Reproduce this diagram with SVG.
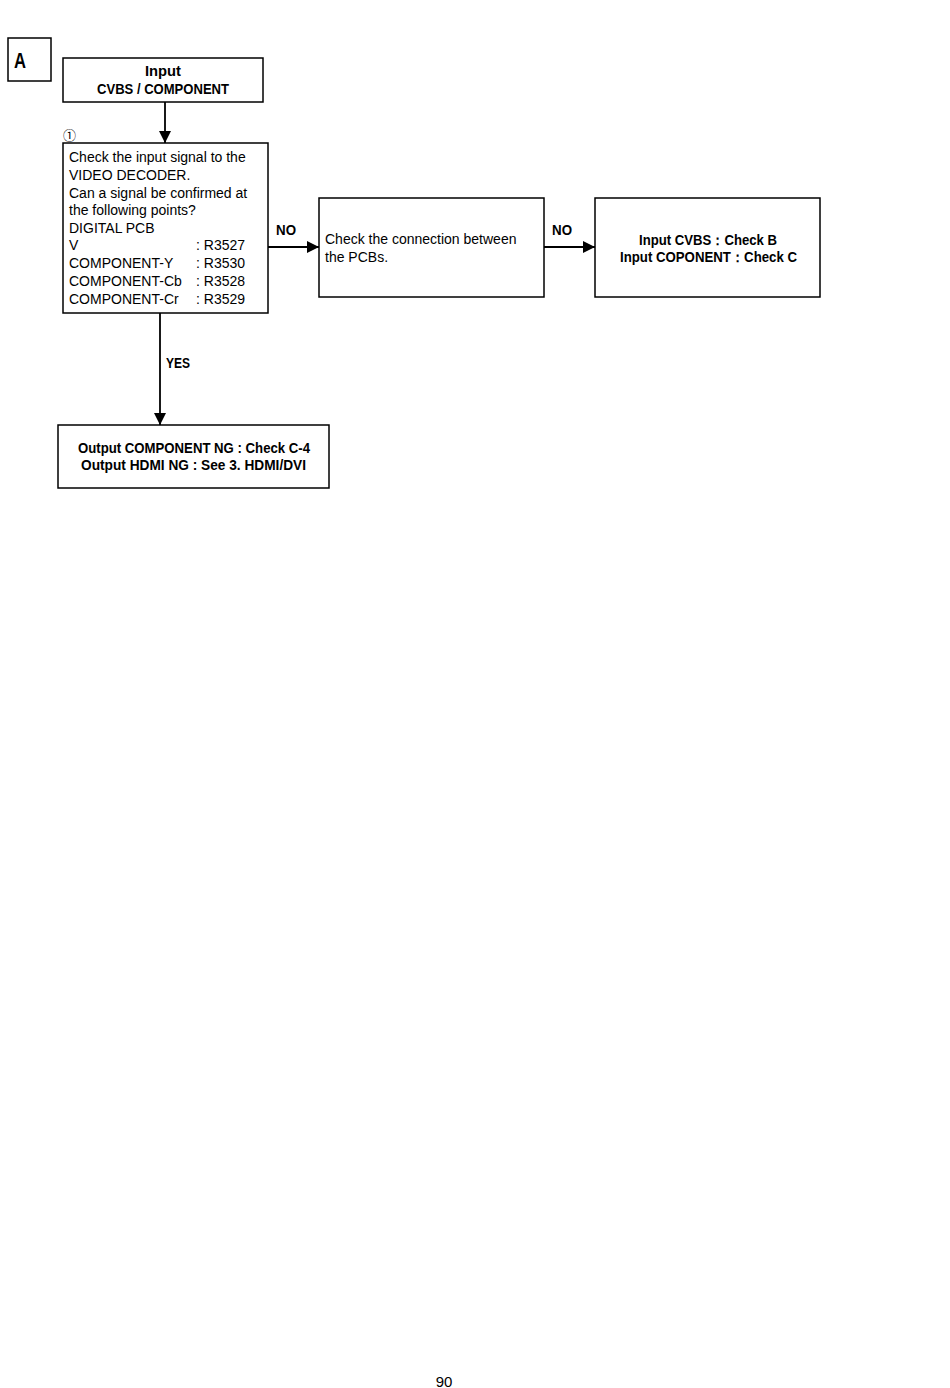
<svg xmlns="http://www.w3.org/2000/svg" width="950" height="1388" viewBox="0 0 950 1388">
<style>
.box{fill:#fff;stroke:#000;stroke-width:1.5}
.ln{stroke:#000;stroke-width:1.8;fill:none}
.b{font-family:"Liberation Sans",Arial,sans-serif;font-weight:bold;font-size:14px;fill:#000}
.r{font-family:"Liberation Sans",Arial,sans-serif;font-size:14px;fill:#000}
</style>
<defs>
<marker id="ah" markerWidth="12" markerHeight="12" refX="12" refY="6" orient="auto" markerUnits="userSpaceOnUse">
<path d="M0,0 L12,6 L0,12 Z" fill="#000"/>
</marker>
</defs>
<rect width="950" height="1388" fill="#fff"/>
<g id="label-a">
<rect class="box" x="8" y="38" width="43" height="43"/>
<text x="14" y="68" font-family="Liberation Sans,sans-serif" font-weight="bold" font-size="22" textLength="12" lengthAdjust="spacingAndGlyphs">A</text>
</g>
<g id="input">
<rect class="box" x="63" y="58" width="200" height="44"/>
<text class="b" x="145" y="76" textLength="36" lengthAdjust="spacingAndGlyphs">Input</text>
<text class="b" x="97" y="94" textLength="132" lengthAdjust="spacingAndGlyphs">CVBS / COMPONENT</text>
</g>
<g id="check">
<text x="63" y="140" font-family="Noto Sans CJK JP,DejaVu Sans,sans-serif" font-size="13">①</text>
<rect class="box" x="63" y="143" width="205" height="170"/>
<text class="r" x="69" y="162">Check the input signal to the</text>
<text class="r" x="69" y="180">VIDEO DECODER.</text>
<text class="r" x="69" y="198">Can a signal be confirmed at</text>
<text class="r" x="69" y="215">the following points?</text>
<text class="r" x="69" y="233">DIGITAL PCB</text>
<text class="r" x="69" y="250">V</text>
<text class="r" x="69" y="268">COMPONENT-Y</text>
<text class="r" x="69" y="286">COMPONENT-Cb</text>
<text class="r" x="69" y="304">COMPONENT-Cr</text>
<text class="r" x="196" y="250">: R3527</text>
<text class="r" x="196" y="268">: R3530</text>
<text class="r" x="196" y="286">: R3528</text>
<text class="r" x="196" y="304">: R3529</text>
</g>
<g id="connection">
<rect class="box" x="319" y="198" width="225" height="99"/>
<text class="r" x="325" y="244">Check the connection between</text>
<text class="r" x="325" y="262">the PCBs.</text>
</g>
<g id="input-check">
<rect class="box" x="595" y="198" width="225" height="99"/>
<text class="b" x="639" y="245" textLength="138" lengthAdjust="spacingAndGlyphs">Input CVBS：Check B</text>
<text class="b" x="620" y="262" textLength="177" lengthAdjust="spacingAndGlyphs">Input COPONENT：Check C</text>
</g>
<g id="output">
<rect class="box" x="58" y="425" width="271" height="63"/>
<text class="b" x="78" y="453" textLength="232" lengthAdjust="spacingAndGlyphs">Output COMPONENT NG : Check C-4</text>
<text class="b" x="81" y="470" textLength="225" lengthAdjust="spacingAndGlyphs">Output HDMI NG : See 3. HDMI/DVI</text>
</g>
<g id="connectors">
<line class="ln" x1="165" y1="102" x2="165" y2="143" marker-end="url(#ah)"/>
<line class="ln" x1="268" y1="247" x2="319" y2="247" marker-end="url(#ah)"/>
<line class="ln" x1="544" y1="247" x2="595" y2="247" marker-end="url(#ah)"/>
<line class="ln" x1="160" y1="313" x2="160" y2="425" marker-end="url(#ah)"/>
<text class="b" x="276" y="235" textLength="20" lengthAdjust="spacingAndGlyphs">NO</text>
<text class="b" x="552" y="235" textLength="20" lengthAdjust="spacingAndGlyphs">NO</text>
<text class="b" x="166" y="368" textLength="24" lengthAdjust="spacingAndGlyphs">YES</text>
</g>
<text x="444" y="1387" text-anchor="middle" font-family="Liberation Sans,Arial,sans-serif" font-size="15">90</text>
</svg>
